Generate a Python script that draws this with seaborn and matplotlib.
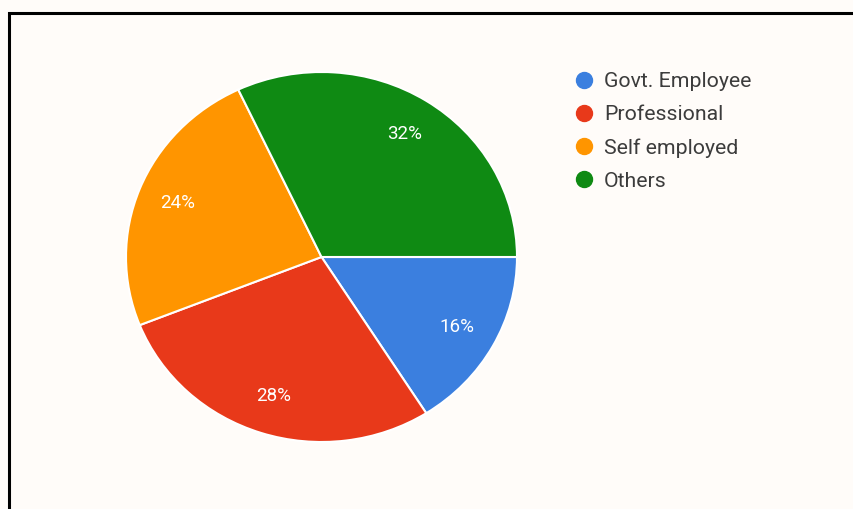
import matplotlib
matplotlib.use("Agg")
import matplotlib.pyplot as plt
from matplotlib.lines import Line2D
from matplotlib.patches import Rectangle
import seaborn as sns

# data
categories = ["Govt. Employee", "Professional", "Self employed", "Others"]
shares = [16, 28, 24, 32]
colors = ["#3b7fdf", "#e8391a", "#ff9500", "#0f8a13"]

sns.set_theme(style="white")
plt.rcParams['font.family'] = ['Roboto', 'DejaVu Sans']

bg = "#fffcf9"
W, H = 854, 509
fig = plt.figure(figsize=(W / 100, H / 100), dpi=100, facecolor=bg)

# pie axes placed by pixel centre and radii (the source is slightly stretched sideways)
cx, cy, rx, ry = 321.5, 257, 195.5, 185
ax = fig.add_axes([(cx - rx) / W, (H - cy - ry) / H, 2 * rx / W, 2 * ry / H])
ax.set_facecolor(bg)

palette = sns.color_palette(colors)
wedges, texts, autotexts = ax.pie(
    shares,
    colors=palette,
    startangle=0,
    counterclock=False,
    radius=1,
    autopct=lambda p: f"{p:.0f}%",
    pctdistance=0.79,
    wedgeprops=dict(edgecolor="white", linewidth=1.5),
    textprops=dict(color="white", fontsize=13.5),
)
ax.set_aspect("auto")
ax.set_xlim(-1.0, 1.0)
ax.set_ylim(-1.0, 1.0)
ax.axis("off")

handles = [Line2D([], [], marker="o", linestyle="", markersize=11.5,
                  markerfacecolor=c, markeredgecolor=c) for c in palette]
leg = fig.legend(handles, categories, loc="upper left",
                 bbox_to_anchor=(573 / W, 1 - 72 / H),
                 frameon=False, fontsize=15.3, labelspacing=0.66,
                 handletextpad=0.45, handlelength=1.0, borderpad=0,
                 borderaxespad=0)
for t in leg.get_texts():
    t.set_color("#3c3c3c")

# frame line around the card (top and left visible)
fig.patches.append(Rectangle((9.5 / W, -0.1), 1.2, (H - 12.5) / H + 0.1,
                             transform=fig.transFigure, fill=False,
                             edgecolor="black", linewidth=2.2))

fig.savefig("out.png", dpi=100, facecolor=bg)
